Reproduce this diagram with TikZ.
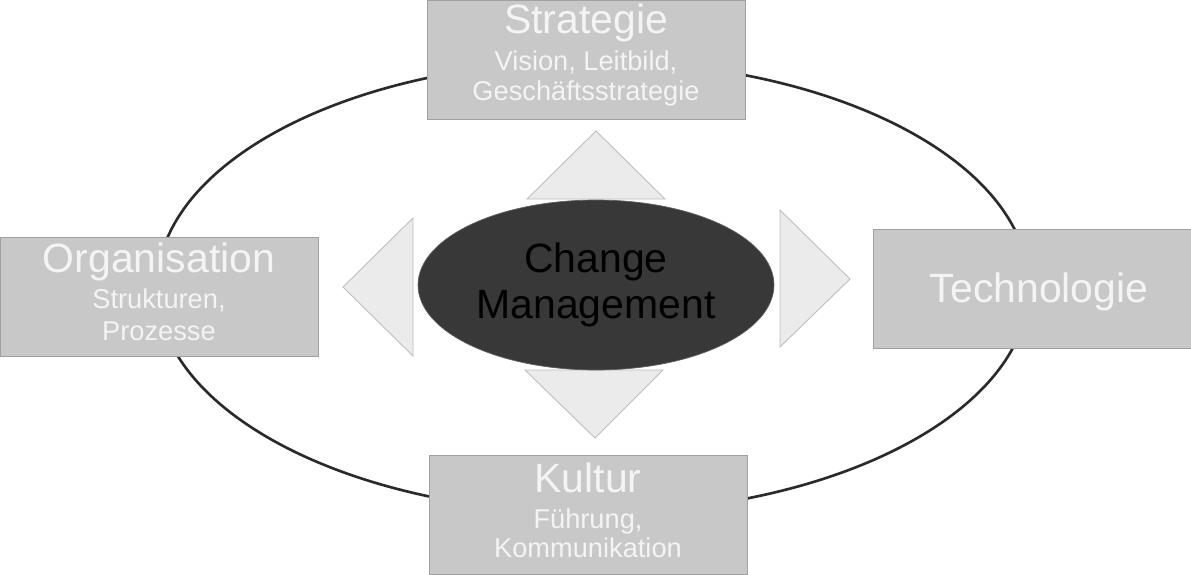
\documentclass[tikz,border=0pt]{standalone}
\usepackage{fontspec}
\setmainfont{Liberation Sans}
\usetikzlibrary{shapes.geometric}
\definecolor{ringline}{HTML}{2A2A2A}
\definecolor{boxgray}{HTML}{C8C8C8}
\definecolor{boxline}{HTML}{A0A0A0}
\definecolor{boxtext}{HTML}{F4F4F4}
\definecolor{trifill}{HTML}{EBEBEB}
\definecolor{triline}{HTML}{BDBDBD}
\definecolor{hubfill}{HTML}{383838}

\begin{document}
\begin{tikzpicture}[x=0.02cm, y=-0.02cm,
    ring/.style={draw=ringline, line width=1.5pt},
    box/.style={draw=boxline, fill=boxgray, minimum width=6.36cm, minimum height=2.38cm, inner sep=0pt},
    tri/.style={draw=triline, fill=trifill, line width=0.5pt},
    hub/.style={ellipse, draw=hubfill!80, fill=hubfill, minimum width=7.12cm, minimum height=3.4cm,
        inner sep=0pt, align=center, font=\fontsize{23.3}{26}\selectfont},
    title/.style={anchor=base, inner sep=0pt, boxtext, font=\fontsize{23.3}{26}\selectfont},
    sub/.style={anchor=base, inner sep=0pt, boxtext, font=\fontsize{15.5}{17}\selectfont}]
    \useasboundingbox (0,0) rectangle (1191,575);
    % outer ring
    \draw[ring] (593,287) ellipse [x radius=8.72cm, y radius=4.52cm];
    % the four fields
    \node[box] (strat) at (586,59.5) {};
    \node[box] (orga) at (159,297) {};
    \node[box] (tech) at (1032.5,288.5) {};
    \node[box] (kult) at (588,514.5) {};
    \node[title] (strat-t) at (586,33) {Strategie};
    \node[sub] (strat-a) at (586,70) {Vision, Leitbild,};
    \node[sub] (strat-b) at (586,100) {Geschäftsstrategie};
    \node[title] (orga-t) at (159,272) {Organisation};
    \node[sub] (orga-a) at (159,308) {Strukturen,};
    \node[sub] (orga-b) at (159,340) {Prozesse};
    \node[title] (tech-t) at (1039,302) {Technologie};
    \node[title] (kult-t) at (588,492) {Kultur};
    \node[sub] (kult-a) at (588,528) {Führung,};
    \node[sub] (kult-b) at (588,557) {Kommunikation};
    % pointers
    \draw[tri] (527,199) -- (596,131) -- (665,199) -- cycle;
    \draw[tri] (525,370) -- (595,438) -- (663,370) -- cycle;
    \draw[tri] (413,218) -- (343,287) -- (413,356) -- cycle;
    \draw[tri] (780,210) -- (850,279) -- (780,347) -- cycle;
    % centre
    \node[hub] (cm) at (596,285) {Change\\Management};
\end{tikzpicture}
\end{document}
